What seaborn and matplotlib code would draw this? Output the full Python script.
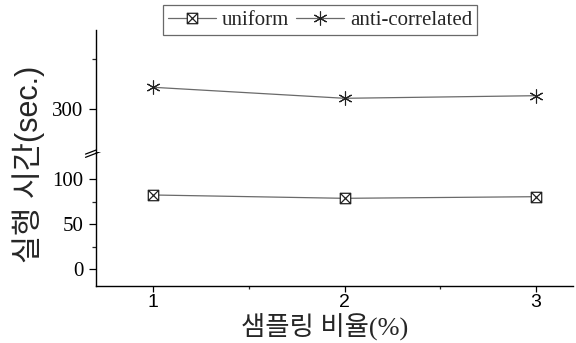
import numpy as np
import pandas as pd
import matplotlib
matplotlib.use("Agg")
import matplotlib.pyplot as plt
from matplotlib.path import Path
import seaborn as sns

# ---- data ----
ratios = [1, 2, 3]
uniform = [82.6, 78.9, 80.7]
anti_correlated = [321.7, 310.7, 313.3]
series_labels = ["uniform", "anti-correlated"]
x_ticks = [1, 2, 3]
low_yticks = [0, 50, 100]
up_yticks = [300]
xlabel = "샘플링 비율(%)"
ylabel = "실행 시간(sec.)"

sns.set_style("ticks")
plt.rcParams["font.family"] = ["Liberation Serif", "Noto Sans CJK KR"]

df_u = pd.DataFrame({"ratio": ratios, "time": uniform})
df_a = pd.DataFrame({"ratio": ratios, "time": anti_correlated})

# boxed-X marker
box_x = Path(
    [(-1, -1), (1, -1), (1, 1), (-1, 1), (-1, -1), (-1, -1), (1, 1), (-1, 1), (1, -1)],
    [Path.MOVETO, Path.LINETO, Path.LINETO, Path.LINETO, Path.CLOSEPOLY,
     Path.MOVETO, Path.LINETO, Path.MOVETO, Path.LINETO],
)

fig = plt.figure(figsize=(5.76, 3.43), dpi=100)
L, R = 96 / 576, 573 / 576
b_low, t_low = (343 - 285.7) / 343, (343 - 151.7) / 343
b_up, t_up = t_low, (343 - 30) / 343
ax_low = fig.add_axes([L, b_low, R - L, t_low - b_low])
ax_up = fig.add_axes([L, b_up, R - L, t_up - b_up], sharex=ax_low)

line_col = "#6a6a6a"
sns.lineplot(data=df_u, x="ratio", y="time", ax=ax_low, color=line_col, lw=0.9,
             marker=box_x, markersize=7.5, mfc="white", mec="#222222", mew=0.9,
             errorbar=None, legend=False)
sns.lineplot(data=df_a, x="ratio", y="time", ax=ax_up, color=line_col, lw=0.9,
             marker=(6, 2, 0), markersize=10, mec="#222222", mew=0.8,
             errorbar=None, legend=False)

ax_low.set_xlim(0.70, 3.195)
ax_low.set_ylim(-18.2, 130.7)
ax_up.set_ylim(257.3, 379)

for ax in (ax_low, ax_up):
    ax.set_facecolor("white")
    for s in ("top", "right"):
        ax.spines[s].set_visible(False)
    ax.spines["left"].set_linewidth(1.0)
    ax.spines["left"].set_color("black")
    ax.set_xlabel("")
    ax.set_ylabel("")
    ax.tick_params(axis="y", direction="out", length=5, width=0.9, pad=4,
                   labelsize=15, colors="black")
    ax.tick_params(axis="y", which="minor", direction="out", length=3, width=0.9)

ax_up.spines["bottom"].set_visible(False)
ax_up.tick_params(axis="x", which="both", bottom=False, labelbottom=False)
ax_low.spines["bottom"].set_linewidth(1.0)
ax_low.spines["bottom"].set_color("black")

ax_low.set_yticks(low_yticks)
ax_low.set_yticks([25, 75], minor=True)
ax_up.set_yticks(up_yticks)
ax_up.set_yticks([350], minor=True)

ax_low.set_xticks(x_ticks)
ax_low.set_xticklabels([str(v) for v in x_ticks])
ax_low.set_xticks([1.5, 2.5], minor=True)
ax_low.tick_params(axis="x", direction="out", length=4, width=0.9, pad=2,
                   labelsize=14, colors="black")
ax_low.tick_params(axis="x", which="minor", direction="out", length=2.5, width=0.9)
for lab in ax_low.get_xticklabels():
    lab.set_family(["Liberation Sans"])
for lab in ax_low.get_yticklabels() + ax_up.get_yticklabels():
    lab.set_family(["Liberation Serif"])

# break marks on the left spine
for dy in (-0.012, 0.012):
    ax_low.plot([-0.022, 0.022], [1.0 + dy - 0.03, 1.0 + dy + 0.03],
                transform=ax_low.transAxes, color="black", lw=0.9, clip_on=False)

ax_low.set_xlabel(xlabel, fontsize=19, family=["Liberation Serif", "Noto Sans CJK KR"])
ax_low.xaxis.set_label_coords(0.48, -0.205)
fig.text(29 / 576, 1 - 164 / 343, ylabel, rotation=90, fontsize=22,
         family=["Liberation Sans", "Noto Sans CJK KR"], ha="center", va="center")

leg = fig.legend([ax_low.lines[0], ax_up.lines[0]], series_labels, ncol=2,
                 loc="upper center", bbox_to_anchor=(320 / 576, 1 - 5 / 343),
                 fontsize=15, frameon=True, fancybox=False, shadow=False,
                 handlelength=2.3, handletextpad=0.3, columnspacing=0.3,
                 borderpad=0.25, borderaxespad=0)
leg.get_frame().set_edgecolor("#444444")
leg.get_frame().set_linewidth(0.9)
for t in leg.get_texts():
    t.set_family(["Liberation Serif"])

fig.savefig("out.png", dpi=100, facecolor="white")
